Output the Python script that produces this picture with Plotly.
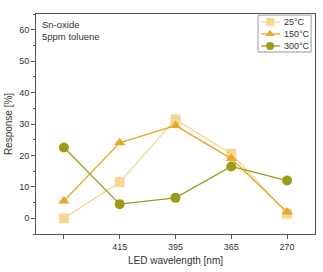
import plotly.graph_objects as go

categories = ["", "415", "395", "365", "270"]
resp_25 = [0, 11.5, 31.5, 20.5, 1.5]
resp_150 = [5.5, 24, 29.5, 19, 2]
resp_300 = [22.5, 4.5, 6.5, 16.5, 12]
series_names = ["25°C", "150°C", "300°C"]

x = list(range(len(categories)))

colors = ["#F6D596", "#E8A828", "#9C9C18"]
symbols = ["square", "triangle-up", "circle"]
data = [resp_25, resp_150, resp_300]

fig = go.Figure()
for name, vals, col, sym in zip(series_names, data, colors, symbols):
    fig.add_trace(go.Scatter(
        x=x, y=vals, name=name, mode="lines+markers",
        line=dict(color=col, width=1.3),
        marker=dict(symbol=sym, size=10, color=col),
        showlegend=False,
    ))

# compact legend drawn in paper coordinates
leg_x0, leg_x1, leg_y0, leg_y1 = 0.796, 0.986, 0.827, 0.995
row_y = [0.964, 0.909, 0.855]
shapes = [dict(type="rect", xref="paper", yref="paper", x0=leg_x0, x1=leg_x1,
               y0=leg_y0, y1=leg_y1, line=dict(color="#999", width=1),
               fillcolor="white", layer="below")]
annotations = [dict(
    text="Sn-oxide<br>5ppm toluene", xref="paper", yref="paper",
    x=0.015, y=0.985, xanchor="left", yanchor="top", showarrow=False,
    align="left", font=dict(size=9.5, color="#333"),
)]
for name, col, sym, yy in zip(series_names, colors, symbols, row_y):
    shapes.append(dict(type="line", xref="paper", yref="paper", x0=0.807, x1=0.875,
                       y0=yy, y1=yy, line=dict(color=col, width=1.3), layer="below"))
    fig.add_trace(go.Scatter(
        x=[0.839], y=[yy], xaxis="x2", yaxis="y2", mode="markers",
        marker=dict(symbol=sym, size=8, color=col), showlegend=False,
        hoverinfo="skip", cliponaxis=False,
    ))
    annotations.append(dict(text=name, xref="paper", yref="paper", x=0.882, y=yy,
                            xanchor="left", yanchor="middle", showarrow=False,
                            font=dict(size=9, color="#333")))

fig.update_layout(
    width=323, height=272,
    margin=dict(l=36, r=8, t=14, b=38),
    paper_bgcolor="white", plot_bgcolor="white",
    font=dict(family="Liberation Sans, Arial", size=9, color="#333"),
    showlegend=False,
    shapes=shapes,
    annotations=annotations,
    xaxis=dict(
        range=[-0.5, 4.5], tickmode="array", tickvals=x, ticktext=categories,
        showgrid=False, zeroline=False, showline=True, linecolor="#555",
        linewidth=1, mirror=True, ticks="outside", ticklen=4, tickcolor="#555",
        title=dict(text="LED wavelength [nm]", font=dict(size=10), standoff=6),
    ),
    yaxis=dict(
        range=[-5, 65], tickmode="array", tickvals=[0, 10, 20, 30, 40, 50, 60],
        showgrid=False, zeroline=False, showline=True, linecolor="#555",
        linewidth=1, mirror=True, ticks="outside", ticklen=4, tickcolor="#555",
        minor=dict(tickvals=[-5, 5, 15, 25, 35, 45, 55, 65], ticks="outside",
                   ticklen=2, tickcolor="#555"),
        title=dict(text="Response [%]", font=dict(size=10), standoff=4),
    ),
    xaxis2=dict(overlaying="x", range=[0, 1], visible=False),
    yaxis2=dict(overlaying="y", range=[0, 1], visible=False),
)

fig.write_html("out.html")
